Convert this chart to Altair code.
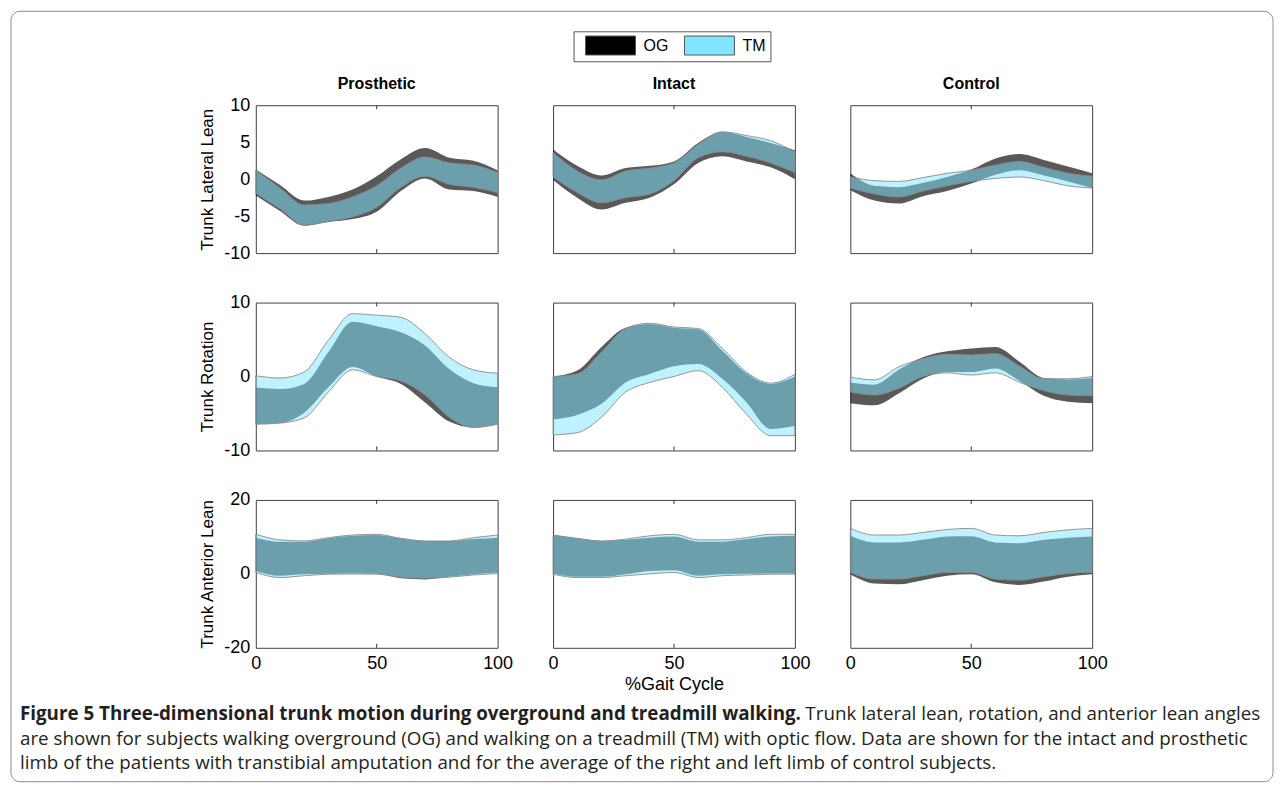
import altair as alt
import pandas as pd

# ---------------- data ----------------
gait = [0, 10, 20, 30, 40, 50, 60, 70, 80, 90, 100]
groups = ["Prosthetic", "Intact", "Control"]
measures = ["Trunk Lateral Lean", "Trunk Rotation", "Trunk Anterior Lean"]
series_names = ["OG", "TM"]
x_ticks = [0, 50, 100]
tick_positions = [50]
row_ticks = [[10, 5, 0, -5, -10], [10, 0, -10], [20, 0, -20]]
row_domains = [[-10, 10], [-10, 10], [-20, 20]]

# Trunk Lateral Lean
lat_pro_og_lo = [-2.2, -4.3, -6.3, -5.8, -5.4, -4.4, -1.6, 0.1, -1.4, -1.6, -2.4]
lat_pro_og_hi = [1.3, -0.8, -2.9, -2.4, -1.4, 0.4, 2.7, 4.2, 2.9, 2.5, 1.2]
lat_pro_tm_lo = [-1.9, -4.0, -6.2, -5.7, -5.1, -3.8, -1.1, 0.4, -0.7, -1.1, -1.8]
lat_pro_tm_hi = [1.2, -1.2, -3.5, -3.3, -2.4, -0.9, 1.5, 3.0, 2.2, 1.9, 0.9]

lat_int_og_lo = [-0.1, -2.5, -4.1, -3.2, -2.5, -0.7, 2.2, 3.1, 2.4, 1.6, 0.0]
lat_int_og_hi = [4.0, 1.8, 0.5, 1.5, 1.8, 2.4, 4.9, 6.4, 5.7, 4.9, 3.9]
lat_int_tm_lo = [0.3, -1.8, -3.2, -2.5, -2.0, -0.2, 2.9, 3.7, 3.1, 2.2, 0.9]
lat_int_tm_hi = [3.6, 1.1, -0.1, 1.1, 1.5, 2.2, 4.7, 6.4, 5.9, 5.2, 3.7]

lat_con_og_lo = [-1.5, -2.9, -3.3, -2.3, -1.6, -0.6, 0.6, 1.2, 0.5, -0.3, -1.2]
lat_con_og_hi = [0.8, -0.9, -1.1, -0.5, 0.3, 1.3, 2.8, 3.4, 2.6, 1.7, 0.8]
lat_con_tm_lo = [-1.2, -2.0, -2.4, -1.6, -0.9, -0.3, 0.1, 0.3, -0.2, -0.9, -1.2]
lat_con_tm_hi = [0.3, -0.2, -0.3, 0.2, 0.8, 1.2, 1.9, 2.4, 1.6, 0.8, 0.4]

# Trunk Rotation
rot_pro_og_lo = [-6.45, -6.3, -4.9, -1.45, 1.3, 0.0, -1.0, -3.5, -6.1, -6.9, -6.45]
rot_pro_og_hi = [-1.5, -1.7, -1.0, 3.3, 7.4, 6.8, 6.0, 4.2, 1.0, -0.9, -1.45]
rot_pro_tm_lo = [-6.45, -6.3, -5.6, -2.1, 0.9, 0.0, -0.6, -2.5, -5.5, -6.9, -6.45]
rot_pro_tm_hi = [0.1, -0.2, 0.6, 4.9, 8.5, 8.3, 8.0, 5.8, 2.6, 0.9, 0.45]

rot_int_og_lo = [-5.8, -5.2, -3.7, -0.8, 0.35, 1.4, 1.7, -0.3, -3.5, -7.1, -6.7]
rot_int_og_hi = [0.0, 0.8, 4.0, 6.6, 7.1, 6.6, 6.4, 3.5, 0.45, -1.0, 0.0]
rot_int_tm_lo = [-7.9, -7.6, -5.5, -2.1, -0.8, 0.0, 0.8, -1.45, -5.1, -8.0, -8.0]
rot_int_tm_hi = [0.0, 0.35, 3.3, 6.5, 7.2, 6.7, 6.5, 3.8, 0.6, -0.9, 0.3]

rot_con_og_lo = [-3.6, -3.9, -2.3, -0.3, 0.6, 0.6, 1.1, -0.6, -2.6, -3.4, -3.6]
rot_con_og_hi = [-0.8, -1.1, 0.9, 2.6, 3.4, 3.8, 4.0, 2.0, -0.2, -0.4, -0.2]
rot_con_tm_lo = [-2.1, -2.5, -1.6, 0.0, 0.5, 0.2, 0.5, -0.8, -1.9, -2.5, -2.6]
rot_con_tm_hi = [-0.1, -0.45, 1.3, 2.4, 3.0, 2.9, 3.1, 1.4, -0.3, -0.3, 0.0]

# Trunk Anterior Lean
ant_pro_og_lo = [0.8, -0.5, -0.1, 0.05, 0.1, 0.0, -1.2, -1.5, -0.8, -0.1, 0.4]
ant_pro_og_hi = [9.8, 8.7, 8.7, 9.6, 10.3, 10.5, 9.6, 8.9, 8.9, 9.4, 9.8]
ant_pro_tm_lo = [0.4, -1.0, -0.5, -0.1, -0.05, -0.1, -0.9, -1.2, -0.9, -0.3, 0.1]
ant_pro_tm_hi = [10.7, 9.2, 8.9, 9.8, 10.5, 10.7, 9.6, 8.9, 8.9, 9.8, 10.5]

ant_int_og_lo = [0.1, -0.8, -0.8, -0.1, 0.8, 1.0, -0.5, -0.1, 0.0, 0.1, 0.1]
ant_int_og_hi = [10.5, 9.6, 8.9, 9.2, 9.8, 10.1, 8.7, 8.7, 9.4, 10.1, 10.3]
ant_int_tm_lo = [-0.1, -1.0, -1.0, -0.5, 0.0, 0.4, -1.0, -0.5, -0.3, -0.1, -0.1]
ant_int_tm_hi = [10.5, 9.6, 8.9, 9.4, 10.3, 10.7, 9.2, 9.2, 9.8, 10.7, 10.7]

ant_con_og_lo = [-0.1, -2.6, -2.8, -1.7, -0.5, -0.1, -2.3, -3.0, -2.1, -0.8, -0.1]
ant_con_og_hi = [10.3, 8.5, 8.5, 9.2, 10.1, 10.2, 8.5, 8.3, 9.2, 9.8, 10.1]
ant_con_tm_lo = [0.4, -1.4, -1.4, -0.5, 0.4, 0.4, -1.4, -1.7, -0.8, 0.1, 0.4]
ant_con_tm_hi = [12.3, 10.5, 10.5, 11.2, 12.0, 12.3, 10.5, 10.3, 11.2, 11.9, 12.3]

caption_bold = "Figure 5 Three-dimensional trunk motion during overground and treadmill walking."
caption_lines = [
    "Trunk lateral lean, rotation, and anterior lean angles",
    "are shown for subjects walking overground (OG) and walking on a treadmill (TM) with optic flow. Data are shown for the intact and prosthetic",
    "limb of the patients with transtibial amputation and for the average of the right and left limb of control subjects.",
]

# ---------------- table ----------------
bands = [
    ("Trunk Lateral Lean", "Prosthetic", lat_pro_og_lo, lat_pro_og_hi, lat_pro_tm_lo, lat_pro_tm_hi),
    ("Trunk Lateral Lean", "Intact", lat_int_og_lo, lat_int_og_hi, lat_int_tm_lo, lat_int_tm_hi),
    ("Trunk Lateral Lean", "Control", lat_con_og_lo, lat_con_og_hi, lat_con_tm_lo, lat_con_tm_hi),
    ("Trunk Rotation", "Prosthetic", rot_pro_og_lo, rot_pro_og_hi, rot_pro_tm_lo, rot_pro_tm_hi),
    ("Trunk Rotation", "Intact", rot_int_og_lo, rot_int_og_hi, rot_int_tm_lo, rot_int_tm_hi),
    ("Trunk Rotation", "Control", rot_con_og_lo, rot_con_og_hi, rot_con_tm_lo, rot_con_tm_hi),
    ("Trunk Anterior Lean", "Prosthetic", ant_pro_og_lo, ant_pro_og_hi, ant_pro_tm_lo, ant_pro_tm_hi),
    ("Trunk Anterior Lean", "Intact", ant_int_og_lo, ant_int_og_hi, ant_int_tm_lo, ant_int_tm_hi),
    ("Trunk Anterior Lean", "Control", ant_con_og_lo, ant_con_og_hi, ant_con_tm_lo, ant_con_tm_hi),
]
rows = []
for m, g, og_lo, og_hi, tm_lo, tm_hi in bands:
    for i, x in enumerate(gait):
        rows.append({"measure": m, "group": g, "series": "OG", "gait": x, "lo": og_lo[i], "hi": og_hi[i]})
        rows.append({"measure": m, "group": g, "series": "TM", "gait": x, "lo": tm_lo[i], "hi": tm_hi[i]})
data = pd.DataFrame(rows)
tick_df = pd.DataFrame({"gait": tick_positions})

FONT = "Liberation Sans"
CAP_FONT = "Open Sans"
CAP_SIZE = 18.8
W, H = 242, 148

color_scale = alt.Scale(domain=series_names, range=["#000000", "#80e5ff"])
legend = alt.Legend(
    title=None, orient="none", legendX=318, legendY=-74, direction="horizontal",
    symbolType="M-2.63,-1H2.63V1H-2.63Z", symbolSize=361, symbolStrokeColor="#555555",
    symbolStrokeWidth=1, symbolOpacity=1, symbolOffset=23, labelOffset=23, columnPadding=8,
    padding=4, strokeColor="#555555", fillColor="#ffffff",
    labelFontSize=16, labelFont=FONT, labelColor="#000000",
)


def panel(r, c):
    m, g = measures[r], groups[c]
    base = alt.Chart(data).transform_filter((alt.datum.measure == m) & (alt.datum.group == g))
    xscale = alt.Scale(domain=[0, 100], nice=False, zero=False)
    yscale = alt.Scale(domain=row_domains[r], nice=False, zero=False)
    if r == 2:
        xaxis = alt.Axis(values=x_ticks, ticks=False, domain=False, grid=False, labelFontSize=18,
                         labelPadding=7, labelColor="#000000", labelFont=FONT, labelFlush=False,
                         labelOverlap=False, titleFontSize=18, titleFontWeight="normal",
                         titlePadding=3, titleColor="#000000", titleFont=FONT)
        xenc = alt.X("gait:Q", scale=xscale, axis=xaxis,
                     title="%Gait Cycle" if c == 1 else None)
    else:
        xenc = alt.X("gait:Q", scale=xscale, axis=None)
    if c == 0:
        yaxis = alt.Axis(values=row_ticks[r], ticks=False, domain=False, grid=False, labelFontSize=18,
                         labelPadding=6, labelColor="#000000", labelFont=FONT, labelFlush=False,
                         labelOverlap=False, labelExpr="'' + datum.value",
                         titleFontSize=17, titleFontWeight="normal",
                         titlePadding=7, titleColor="#000000", titleFont=FONT)
        yenc = alt.Y("lo:Q", scale=yscale, axis=yaxis, title=m)
    else:
        yenc = alt.Y("lo:Q", scale=yscale, axis=None)
    color = alt.Color("series:N", scale=color_scale, legend=legend)

    og = base.transform_filter(alt.datum.series == "OG").mark_area(
        interpolate="monotone", fillOpacity=0.65
    ).encode(x=xenc, y=yenc, y2="hi:Q", color=color)
    tm = base.transform_filter(alt.datum.series == "TM").mark_area(
        interpolate="monotone", fillOpacity=0.5, stroke="#8a8a8a", strokeWidth=0.9
    ).encode(x=xenc, y=yenc, y2="hi:Q", color=color)
    tick_top = alt.Chart(tick_df).mark_rule(color="#333333", strokeWidth=1).encode(
        x=alt.X("gait:Q", scale=xscale), y=alt.value(0), y2=alt.value(4))
    tick_bot = alt.Chart(tick_df).mark_rule(color="#333333", strokeWidth=1).encode(
        x=alt.X("gait:Q", scale=xscale), y=alt.value(H), y2=alt.value(H - 4))

    ch = alt.layer(og, tm, tick_top, tick_bot).properties(
        width=W, height=H, view=alt.ViewBackground(stroke="#404040", strokeWidth=1))
    if r == 0:
        ch = ch.properties(title=alt.TitleParams(g, fontSize=16, fontWeight="bold", font=FONT,
                                                 color="#000000", offset=4 if c == 0 else 13,
                                                 frame="group"))
    return ch


panels = [panel(r, c) for r in range(3) for c in range(3)]

# caption block (figure legend text and outer frame)
frame_df = pd.DataFrame({"k": [0]})
cap_df = pd.DataFrame({"text": [caption_bold] + caption_lines, "idx": [0, 1, 2, 3]})

frame = alt.Chart(frame_df).mark_rect(
    filled=False, stroke="#8c8c8c", strokeWidth=1, cornerRadius=9
).encode(x=alt.value(-245), x2=alt.value(1018), y=alt.value(-686.5), y2=alt.value(84.5))


def cap_text(idx, xpos, ypos, bold):
    return alt.Chart(cap_df).transform_filter(alt.datum.idx == idx).mark_text(
        align="left", baseline="alphabetic", font=CAP_FONT, fontSize=CAP_SIZE,
        fontWeight="bold" if bold else "normal", color="#231f20"
    ).encode(text="text:N", x=alt.value(xpos), y=alt.value(ypos))


caption = alt.layer(
    frame,
    cap_text(0, -236, 22.5, True),
    cap_text(1, 550, 22.5, False),
    cap_text(2, -236, 47.5, False),
    cap_text(3, -236, 71.5, False),
).properties(width=W, height=70, view=alt.ViewBackground(stroke="transparent"))

chart = alt.concat(
    *panels, caption, columns=3, bounds="flush",
    spacing={"row": 49.5, "column": 55.5},
).properties(
    padding={"left": 2, "top": 2, "right": 0, "bottom": 0}
).configure_view(strokeWidth=1)

chart.save("out.html", embed_options={"renderer": "svg", "actions": False})
